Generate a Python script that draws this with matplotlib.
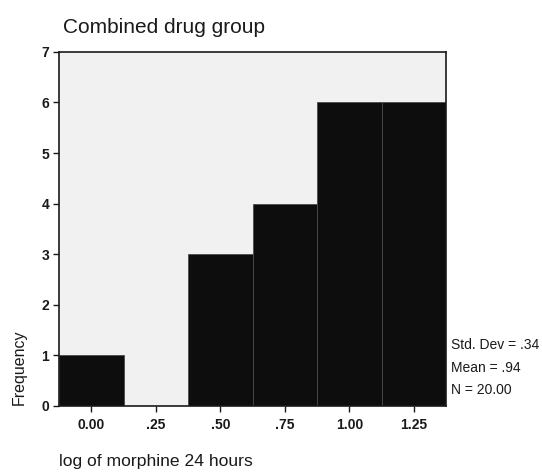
import matplotlib

matplotlib.use("Agg")
import matplotlib.pyplot as plt

# histogram counts per 0.25-wide bin of log(morphine, 24 h)
bin_centers = [0.00, 0.25, 0.50, 0.75, 1.00, 1.25]
counts = [1, 0, 3, 4, 6, 6]
bin_width = 0.25
tick_labels = ["0.00", ".25", ".50", ".75", "1.00", "1.25"]
stats_lines = ["Std. Dev = .34", "Mean = .94", "N = 20.00"]

plt.rcParams["font.family"] = ["Liberation Sans", "DejaVu Sans"]

fig = plt.figure(figsize=(5.42, 4.74), dpi=100)
ax = fig.add_axes([0.109, 0.1435, 0.714, 0.747])
ax.set_facecolor("#f1f1f1")

ax.bar(bin_centers, counts, width=bin_width, color="#0d0d0d",
       edgecolor="#4a4a4a", linewidth=0.6, align="center")

ax.set_xlim(bin_centers[0] - bin_width / 2, bin_centers[-1] + bin_width / 2)
ax.set_ylim(0, 7)
ax.set_xticks(bin_centers)
ax.set_xticklabels(tick_labels)
ax.set_yticks(range(0, 8))
ax.tick_params(axis="both", direction="out", length=4, width=1, labelsize=10,
               colors="#1a1a1a")
ax.tick_params(axis="x", pad=5)
ax.tick_params(axis="y", pad=3)
for lab in ax.get_yticklabels() + ax.get_xticklabels():
    lab.set_fontweight("bold")
for side in ax.spines.values():
    side.set_linewidth(1.2)
    side.set_color("#1a1a1a")

fig.text(0.116, 0.943, "Combined drug group", fontsize=15, color="#1a1a1a",
         ha="left", va="center")
fig.text(0.036, 0.146, "Frequency", rotation=90, fontsize=11.5, color="#1a1a1a",
         ha="center", va="bottom")
fig.text(0.108, 0.026, "log of morphine 24 hours", fontsize=12.6, color="#1a1a1a",
         ha="left", va="center")

for i, line in enumerate(stats_lines):
    fig.text(0.833, 0.272 - i * 0.0475, line, fontsize=10, color="#1a1a1a",
             ha="left", va="center")

fig.savefig("out.png", dpi=100, facecolor="white")
